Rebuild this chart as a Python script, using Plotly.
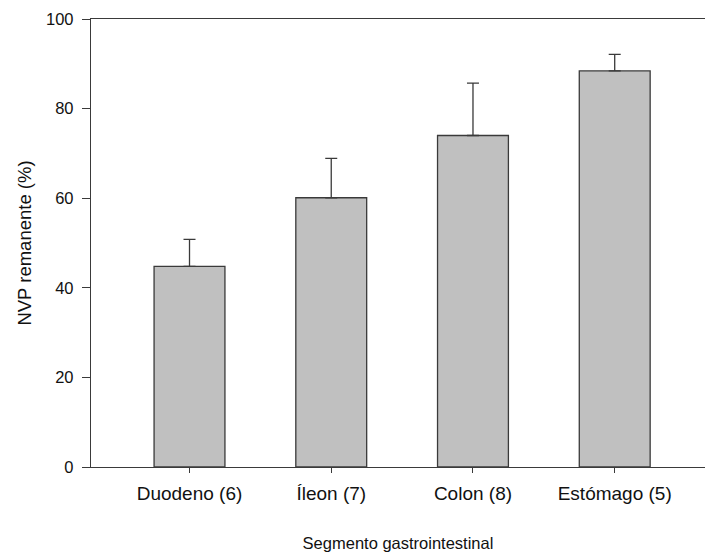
import plotly.graph_objects as go

# Remaining NVP (%) per gastrointestinal segment, mean and upper error (SD)
segmentos = ["Duodeno (6)", "Íleon (7)", "Colon (8)", "Estómago (5)"]
nvp_remanente = [44.8, 60.1, 74.0, 88.4]
error_sup = [6.0, 8.8, 11.7, 3.7]
y_ticks = [0, 20, 40, 60, 80, 100]

FONT = "Liberation Sans, Arial, sans-serif"
LINE = "#3a3a3a"
TEXT = "#111111"

fig = go.Figure(
    go.Bar(
        x=list(range(len(segmentos))),
        y=nvp_remanente,
        width=0.5,
        marker=dict(color="#c0c0c0", line=dict(color=LINE, width=1.3)),
        error_y=dict(
            type="data",
            symmetric=False,
            array=error_sup,
            arrayminus=[0] * len(error_sup),
            color=LINE,
            thickness=1.3,
            width=6,
        ),
    )
)

fig.update_layout(
    width=705,
    height=554,
    margin=dict(l=91, r=0, t=18.5, b=87.3),
    plot_bgcolor="white",
    paper_bgcolor="white",
    showlegend=False,
    font=dict(family=FONT, color=TEXT),
)

fig.update_xaxes(
    range=[-0.695, 3.637],
    tickmode="array",
    tickvals=list(range(len(segmentos))),
    ticktext=segmentos,
    tickfont=dict(size=19, family=FONT, color=TEXT),
    ticks="outside",
    ticklen=5,
    tickwidth=1.3,
    tickcolor=LINE,
    ticklabelstandoff=4,
    showline=True,
    linecolor=LINE,
    linewidth=1.3,
    mirror=True,
    showgrid=False,
    zeroline=False,
    title=dict(text="Segmento gastrointestinal", font=dict(size=16.5, family=FONT, color=TEXT), standoff=34),
)

fig.update_yaxes(
    range=[0, 100],
    tickmode="array",
    tickvals=y_ticks,
    ticktext=[str(v) for v in y_ticks],
    tickfont=dict(size=16.5, family=FONT, color=TEXT),
    ticks="outside",
    ticklen=8,
    tickwidth=1.3,
    tickcolor=LINE,
    ticklabelstandoff=5,
    showline=True,
    linecolor=LINE,
    linewidth=1.3,
    showgrid=False,
    zeroline=False,
    title=dict(text="NVP remanente (%)", font=dict(size=18.5, family=FONT, color=TEXT), standoff=9),
)

fig.write_html("out.html")
